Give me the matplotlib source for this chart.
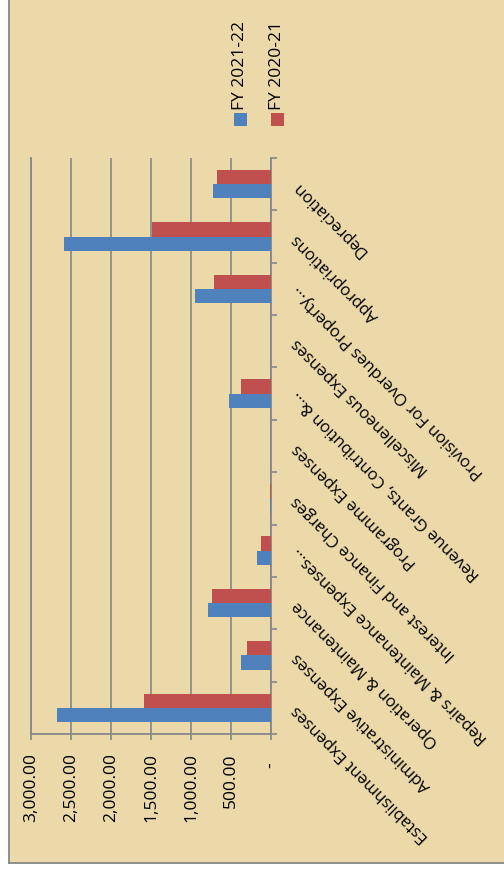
import matplotlib
matplotlib.use("Agg")
import matplotlib.pyplot as plt
import numpy as np
from matplotlib.patches import Rectangle
from matplotlib.lines import Line2D

plt.rcParams['font.family'] = ['Open Sans', 'DejaVu Sans']

# categories listed bottom -> top (chart is turned on its side)
categories = ["Establishment Expenses", "Administrative Expenses", "Operation & Maintenance",
              "Repairs & Maintenance Expenses...", "Interest and Finance Charges",
              "Programme Expenses", "Revenue Grants, Contribution &...",
              "Miscelleneous Expenses", "Provision For Overdues Property...",
              "Appropriations", "Depreciation"]
fy_2021_22 = [2680, 375, 787, 175, 12, 0, 525, 0, 950, 2592, 729]
fy_2020_21 = [1592, 304, 733, 129, 10, 0, 375, 0, 717, 1487, 671]
series_names = ["FY 2021-22", "FY 2020-21"]
value_ticks = [0, 500, 1000, 1500, 2000, 2500, 3000]
value_labels = ["-  ", "500.00", "1,000.00", "1,500.00", "2,000.00", "2,500.00", "3,000.00"]

blue = "#4F81BD"
red = "#C0504D"
grey = "#878787"
paper = "#ECD9AA"

W, H = 504, 873
fig = plt.figure(figsize=(W / 100, H / 100), dpi=100, facecolor="white")

# papyrus-ish chart area with grey border on left/bottom
fig.add_artist(Rectangle((9 / W, 1 - 863 / H), 1 - 9 / W, 863 / H, transform=fig.transFigure,
                         facecolor=paper, edgecolor="none", zorder=0))
fig.add_artist(Line2D([8.5 / W, 8.5 / W], [1 - 863 / H, 1], transform=fig.transFigure, color=grey, lw=1.3))
fig.add_artist(Line2D([8.5 / W, 1], [1 - 863 / H, 1 - 863 / H], transform=fig.transFigure, color=grey, lw=1.3))

ax = fig.add_axes([31 / W, 1 - 734 / H, 240 / W, 576 / H])
ax.set_facecolor("none")

y = np.arange(len(categories))
h = 0.273
ax.barh(y - h / 2, fy_2021_22, height=h, color=blue, zorder=3)
ax.barh(y + h / 2, fy_2020_21, height=h, color=red, zorder=3)

ax.set_xlim(3000, 0)
ax.set_ylim(-0.5, len(categories) - 0.5)

ax.set_xticks(value_ticks)
ax.set_xticklabels(value_labels, rotation=90, fontsize=12.5)
ax.tick_params(axis="x", direction="out", length=4, width=1.2, color=grey, pad=10)
ax.xaxis.grid(True, color=grey, lw=1.2, zorder=1)

ax.yaxis.tick_right()
ax.set_yticks(y)
ax.set_yticks(np.arange(-0.5, len(categories), 1.0), minor=True)
ax.set_yticklabels(categories, fontsize=12)
ax.tick_params(axis="y", which="major", length=0, pad=17)
ax.tick_params(axis="y", which="minor", direction="out", length=4.5, width=1.2, color=grey)
for lab in ax.get_yticklabels():
    lab.set_rotation(135)
    lab.set_rotation_mode("anchor")
    lab.set_ha("right")
    lab.set_va("center")

ax.spines["top"].set_visible(False)
for s in ["left", "right", "bottom"]:
    ax.spines[s].set_color(grey)
    ax.spines[s].set_linewidth(1.3)

# legend, drawn sideways to match the turned chart
for name, col, xc in zip(series_names, [blue, red], [240, 277]):
    fig.add_artist(Rectangle(((xc - 6.5) / W, 1 - 126 / H), 13 / W, 13 / H, transform=fig.transFigure,
                             facecolor=col, edgecolor="none"))
    fig.text(xc / W, 1 - 110 / H, name, rotation=90, ha="center", va="bottom", fontsize=12.5)

fig.savefig("out.png", dpi=100, facecolor="white")
